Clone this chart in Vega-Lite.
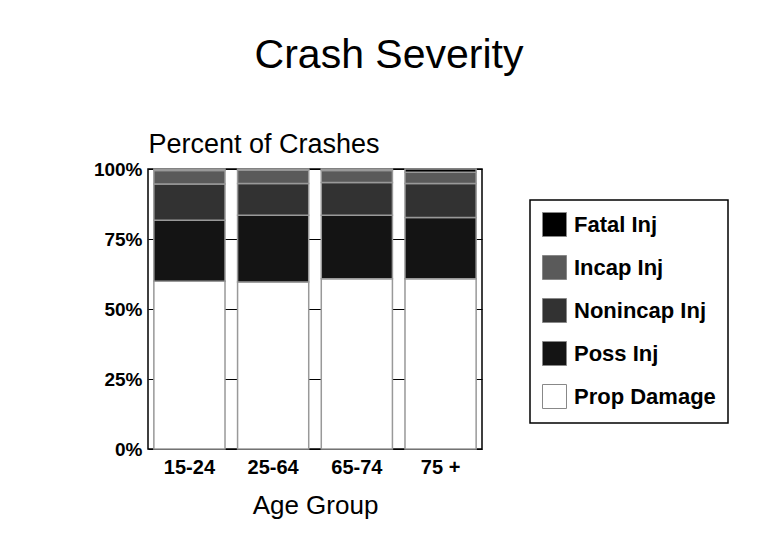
{
  "$schema": "https://vega.github.io/schema/vega-lite/v6.json",
  "autosize": "none",
  "width": 334,
  "height": 280,
  "padding": {"left": 148, "top": 169, "right": 294, "bottom": 108},
  "background": "white",
  "title": {
    "text": "Crash Severity",
    "font": "Liberation Sans",
    "fontSize": 41,
    "fontWeight": "normal",
    "color": "black",
    "anchor": "middle",
    "frame": "group",
    "dx": 74,
    "offset": 53
  },
  "data": {
    "values": [
      {"age": "15-24", "severity": "Prop Damage", "rank": 1, "pct": 59.9},
      {"age": "15-24", "severity": "Poss Inj", "rank": 2, "pct": 21.8},
      {"age": "15-24", "severity": "Nonincap Inj", "rank": 3, "pct": 12.9},
      {"age": "15-24", "severity": "Incap Inj", "rank": 4, "pct": 4.9},
      {"age": "15-24", "severity": "Fatal Inj", "rank": 5, "pct": 0.5},
      {"age": "25-64", "severity": "Prop Damage", "rank": 1, "pct": 59.6},
      {"age": "25-64", "severity": "Poss Inj", "rank": 2, "pct": 23.9},
      {"age": "25-64", "severity": "Nonincap Inj", "rank": 3, "pct": 11.3},
      {"age": "25-64", "severity": "Incap Inj", "rank": 4, "pct": 4.8},
      {"age": "25-64", "severity": "Fatal Inj", "rank": 5, "pct": 0.4},
      {"age": "65-74", "severity": "Prop Damage", "rank": 1, "pct": 60.8},
      {"age": "65-74", "severity": "Poss Inj", "rank": 2, "pct": 22.7},
      {"age": "65-74", "severity": "Nonincap Inj", "rank": 3, "pct": 11.7},
      {"age": "65-74", "severity": "Incap Inj", "rank": 4, "pct": 4.3},
      {"age": "65-74", "severity": "Fatal Inj", "rank": 5, "pct": 0.5},
      {"age": "75 +", "severity": "Prop Damage", "rank": 1, "pct": 60.8},
      {"age": "75 +", "severity": "Poss Inj", "rank": 2, "pct": 21.9},
      {"age": "75 +", "severity": "Nonincap Inj", "rank": 3, "pct": 12.1},
      {"age": "75 +", "severity": "Incap Inj", "rank": 4, "pct": 4.0},
      {"age": "75 +", "severity": "Fatal Inj", "rank": 5, "pct": 1.2}
    ]
  },
  "mark": {"type": "bar", "stroke": "#999999", "strokeWidth": 1.5},
  "encoding": {
    "x": {
      "field": "age",
      "type": "nominal",
      "sort": ["15-24", "25-64", "65-74", "75 +"],
      "scale": {"paddingInner": 0.15, "paddingOuter": 0.07},
      "axis": {
        "title": "Age Group",
        "labelAngle": 0,
        "labelFont": "Liberation Sans",
        "labelFontSize": 20,
        "labelFontWeight": "bold",
        "labelColor": "black",
        "labelPadding": 8,
        "ticks": false,
        "domain": false,
        "titleFont": "Liberation Sans",
        "titleFontSize": 26,
        "titleFontWeight": "normal",
        "titleColor": "black",
        "titlePadding": 15
      }
    },
    "y": {
      "field": "pct",
      "type": "quantitative",
      "stack": "zero",
      "scale": {"domain": [0, 100]},
      "axis": {
        "title": "Percent of Crashes",
        "values": [0, 25, 50, 75, 100],
        "labelExpr": "datum.value + '%'",
        "labelFont": "Liberation Sans",
        "labelFontSize": 19,
        "labelFontWeight": "bold",
        "labelColor": "black",
        "labelPadding": 6,
        "ticks": false,
        "domain": false,
        "grid": true,
        "gridColor": "black",
        "gridWidth": 1,
        "gridOpacity": 1,
        "titleFont": "Liberation Sans",
        "titleFontSize": 27,
        "titleFontWeight": "normal",
        "titleColor": "black",
        "titleAngle": 0,
        "titleAlign": "left",
        "titleBaseline": "alphabetic",
        "titleX": 0,
        "titleY": -17
      }
    },
    "color": {
      "field": "severity",
      "type": "nominal",
      "scale": {
        "domain": ["Fatal Inj", "Incap Inj", "Nonincap Inj", "Poss Inj", "Prop Damage"],
        "range": ["#000000", "#5a5a5a", "#323232", "#141414", "#ffffff"]
      },
      "legend": {
        "title": null,
        "orient": "none",
        "legendX": 382,
        "legendY": 31,
        "padding": 12,
        "strokeColor": "black",
        "fillColor": "white",
        "symbolType": "square",
        "symbolSize": 576,
        "symbolStrokeColor": "#888888",
        "symbolStrokeWidth": 1,
        "labelFont": "Liberation Sans",
        "labelFontSize": 22,
        "labelFontWeight": "bold",
        "labelColor": "black",
        "labelOffset": 7,
        "rowPadding": 14,
        "labelLimit": 300
      }
    },
    "order": {"field": "rank", "type": "quantitative"}
  },
  "config": {
    "view": {"stroke": "black", "strokeWidth": 1.5},
    "legend": {"strokeWidth": 1.5}
  }
}
